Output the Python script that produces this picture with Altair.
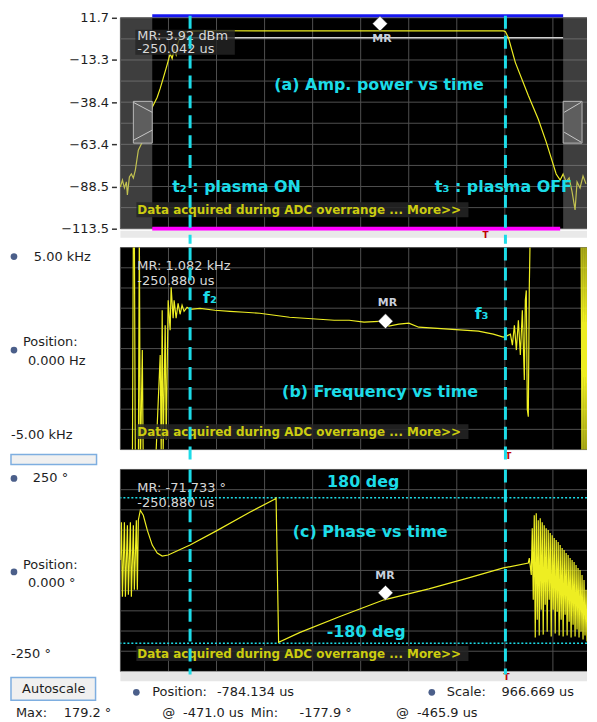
import altair as alt
import pandas as pd

FONT = "DejaVu Sans"
W = 469
HA, HB, HC = 212, 203, 203

CY = "#1cdce8"
YEL = "#eeee22"
GRID = "#505050"
TXT = "#1e1e1e"

# ---------------- shared time axis (us) ----------------
T_DOMAIN = [-784.134, 154.5]
x_grid = [-784.13, -687.47, -590.80, -494.13, -397.47, -300.80, -204.13, -107.47, -10.80, 85.87]
t_events = [-644.0, -9.6]          # t2 plasma ON, t3 plasma OFF
t_mr = -250.88

# ---------------- panel (a) amplifier power (dBm) ----------------
a_dom = [-113.5, 11.7]
a_grid = [-113.5, -100.98, -88.46, -75.94, -63.42, -50.9, -38.38, -25.86, -13.34, -0.82, 11.7]
a_ticks = [11.7, -13.34, -38.38, -63.42, -88.46, -113.5]
a_t = [-784.1, -780.1, -776.1, -772.1, -770.1, -766.1, -762.1, -758.1, -754.1, -748.1,
       -740.1, -732.1, -724.1, -720.1, -710.1, -704.1, -698.1, -690.1, -684.1, -680.1,
       -676.1, -672.1, -668.1, -662.1, -656.1, -640.0, -600.0, -500.0, -400.0, -300.0,
       -200.0, -100.0, -13.6, -9.6, -3.6, 10.4, 36.4, 56.5, 72.5, 92.5,
       100.5, 106.5, 112.5, 118.5, 124.5, 130.5, 134.5, 140.5, 146.5, 152.5]
a_v = [-88.7, -84.6, -89.3, -85.7, -93.4, -82.8, -81.0, -83.4, -78.7, -66.9,
       -62.1, -55.0, -45.6, -41.4, -35.5, -30.2, -24.3, -16.1, -9.6, -12.5,
       -7.2, -10.2, -3.1, 1.7, 3.4, 3.8, 4.0, 3.9, 3.9, 3.9,
       3.9, 3.9, 3.9, 3.4, -0.1, -14.9, -34.4, -48.5, -62.1, -81.0,
       -84.6, -81.0, -85.7, -83.4, -91.7, -102.3, -85.7, -89.3, -82.2, -86.9]
a_ref_level = -0.1
a_top_level = 12.9
a_bottom_level = -113.5
a_span_t = [-720.1, 106.5]
a_mag_t = [-720.1, 100.5]
a_zone_t1 = [-784.134, 106.5]
a_zone_t2 = [-720.1, 154.5]
a_handle_t1 = [-758.1, 106.5]
a_handle_t2 = [-720.1, 144.5]
a_handle_v = [-37.9, -62.7]
a_handle_line_t1 = [-758.1, -758.1, 108.5, 108.5]
a_handle_line_t2 = [-720.1, -720.1, 142.5, 142.5]
a_handle_line_v1 = [-38.5, -61.0, -44.4, -56.2]
a_handle_line_v2 = [-44.4, -55.0, -38.5, -62.1]

# ---------------- panel (b) frequency (Hz) ----------------
b_dom = [-5000, 5000]
b_grid = [-5000, -4000, -3000, -2000, -1000, 0, 1000, 2000, 3000, 4000, 5000]
b_t = [-782.1, -760.1, -758.1, -756.1, -754.1, -748.1, -746.1, -744.1, -740.1, -738.1,
       -714.1, -704.1, -702.1, -700.1, -698.1, -694.1, -692.1, -688.1, -684.1, -682.1,
       -678.1, -676.1, -672.1, -668.1, -664.1, -660.1, -656.1, -650.1, -644.1, -624.0,
       -594.0, -564.0, -534.0, -504.0, -474.0, -444.0, -414.0, -384.0, -354.0, -324.0,
       -294.0, -254.0, -244.0, -224.0, -204.0, -184.0, -154.0, -124.0, -94.0, -64.0,
       -34.0, -14.0, -8.0, 0.4, 4.4, 8.4, 12.4, 16.4, 20.4, 24.4,
       28.4, 30.4, 32.4, 34.4, 36.4, 38.4, 40.4, 142.5, 144.5, 146.5,
       148.5, 150.5, 152.5, 154.5]
b_v = [-6100, -6100, 6000, 6000, -6100, -6100, 6000, -6100, -70, -6100,
       -6100, -320, -5000, 1897, -5000, 1158, -4507, 2389, 911, 3030,
       1503, 2389, 1503, 2241, 1700, 2143, 1847, 2044, 1946, 1995,
       1897, 1847, 1798, 1749, 1650, 1552, 1503, 1453, 1404, 1404,
       1306, 1355, 1108, 1207, 1256, 1059, 1010, 961, 911, 862,
       714, 567, 616, 714, 172, 1158, -74, 1404, -320, 1897,
       -1552, 2389, 2882, -3030, -3374, 3030, 6000, 6000, -6100, 6000,
       -6100, 6000, -6100, 6000]

# ---------------- panel (c) phase (deg) ----------------
c_dom = [-250, 250]
c_grid = [-250, -200, -150, -100, -50, 0, 50, 100, 150, 200, 250]
c_limits = [180, -180]
c_t_main = [-784.1, -782.1, -780.1, -776.1, -774.1, -770.1, -768.1, -764.1, -762.1, -758.1,
            -756.1, -752.1, -750.1, -748.1, -744.1, -738.1, -730.1, -720.1, -710.1, -700.1,
            -688.1, -644.1, -592.0, -524.0, -473.9, -471.0, -465.9, -423.9, -343.8, -253.8,
            -163.7, -83.7, -13.6, 36.4]
c_v_main = [25.9, 119.5, -65.3, 119.5, -65.3, 112.1, -60.3, 119.5, -65.3, 112.1,
            -48.0, 124.4, -48.0, 124.4, 149.0, 136.7, 99.8, 62.8, 43.1, 35.7,
            38.2, 62.8, 97.3, 144.1, 176.0, 179.2, -177.9, -153.9, -114.5, -72.7,
            -45.6, -18.5, 6.2, 18.5]
c_t_osc = [38.4, 42.4, 44.4, 46.4, 48.4, 50.4, 52.4, 54.4, 56.4, 58.4,
           60.4, 62.4, 64.4, 66.4, 68.4, 70.4, 72.4, 74.4, 76.4, 78.5,
           80.5, 82.5, 84.5, 86.5, 88.5, 90.5, 92.5, 94.5, 96.5, 98.5,
           100.5, 102.5, 104.5, 106.5, 108.5, 110.5, 112.5, 114.5, 116.5, 118.5,
           120.5, 122.5, 124.5, 126.5, 128.5, 130.5, 132.5, 134.5, 136.5, 138.5,
           140.5, 142.5, 144.5, 146.5, 148.5, 150.5, 152.5, 154.5]
c_v_osc = [30.8, -11.1, 104.7, -72.7, 136.7, -166.2, 141.6, -121.9, 124.4, -161.3,
           129.3, -97.3, 119.5, -158.9, 112.1, -85.0, 104.7, -151.5, 99.8, -72.7,
           92.4, -163.8, 87.4, -97.3, 80.0, -156.4, 75.1, -102.2, 70.2, -161.3,
           62.8, -121.9, 55.4, -163.8, 50.5, -109.6, 43.1, -161.3, 38.2, -126.8,
           30.8, -166.2, 25.9, -134.2, 21.0, -163.8, 13.6, -146.5, 6.2, -166.2,
           1.2, -151.5, -11.1, -171.2, -23.4, -161.3, -48.0, -176.1]

# ---------------- helpers ----------------
xs = alt.Scale(domain=T_DOMAIN, nice=False, zero=False)
ya = alt.Scale(domain=a_dom, nice=False, zero=False)
yb = alt.Scale(domain=b_dom, nice=False, zero=False)
yc = alt.Scale(domain=c_dom, nice=False, zero=False)
a_axis = alt.Axis(values=a_ticks, format=".1f", title=None, grid=False, domain=False,
                  ticks=True, tickColor="#333", tickSize=5, tickWidth=1.5, offset=4,
                  labelPadding=3, labelFontSize=13, labelColor=TXT, labelFont=FONT,
                  labelFlush=False, labelOverlap=False)
AXES = {id(ya): a_axis}
one = pd.DataFrame({"k": [0]})


def X(f="t"):
    return alt.X(f"{f}:Q", scale=xs, axis=None)


def Y(ys, f="v"):
    return alt.Y(f"{f}:Q", scale=ys, axis=AXES.get(id(ys), None))


def ui(text, x, y, size=13, color=TXT, align="left", weight="normal"):
    return alt.Chart(one).mark_text(text=text, align=align, baseline="middle", font=FONT,
                                    fontSize=size, color=color, fontWeight=weight).encode(
        x=alt.value(x), y=alt.value(y))


def ui_rect(x, x2, y, y2, fill, stroke=None, sw=1):
    kw = dict(fill=fill)
    if stroke:
        kw.update(stroke=stroke, strokeWidth=sw)
    return alt.Chart(one).mark_rect(**kw).encode(
        x=alt.value(x), x2=alt.value(x2), y=alt.value(y), y2=alt.value(y2))


def icon(x, y):
    return alt.Chart(one).mark_point(shape="circle", filled=True, size=45, color="#4b5f8a",
                                     opacity=1).encode(x=alt.value(x), y=alt.value(y))


def anchor(y=0):
    return alt.Chart(one).mark_rule(color="white", strokeWidth=1).encode(
        x=alt.value(-112), y=alt.value(y), y2=alt.value(y + 1))


def grid_layers(ys, ygrid):
    vx = alt.Chart(pd.DataFrame({"t": x_grid})).mark_rule(color=GRID, strokeWidth=1).encode(x=X())
    hy = alt.Chart(pd.DataFrame({"v": ygrid})).mark_rule(color=GRID, strokeWidth=1).encode(y=Y(ys))
    return [vx, hy]


def events(top, bot):
    return alt.Chart(pd.DataFrame({"t": t_events})).mark_rule(
        color=CY, strokeWidth=3, strokeDash=[13, 7]).encode(
        x=X(), y=alt.value(top), y2=alt.value(bot))


def trace(t, v, ys, clip=False):
    return alt.Chart(pd.DataFrame({"t": t, "v": v})).mark_line(
        color=YEL, strokeWidth=1.2, clip=clip).encode(x=X(), y=Y(ys))


def texts(ts, vs, ss, ys, **mk):
    return alt.Chart(pd.DataFrame({"t": ts, "v": vs, "s": ss})).mark_text(
        font=FONT, baseline="middle", **mk).encode(x=X(), y=Y(ys), text="s:N")


def diamond(t, v, ys):
    return alt.Chart(pd.DataFrame({"t": [t], "v": [v]})).mark_point(
        shape="diamond", filled=True, color="white", size=220, opacity=1,
        stroke="#444", strokeWidth=0.5).encode(x=X(), y=Y(ys))


def overrange(v, ys):
    box = alt.Chart(pd.DataFrame({"t": [-752.0], "t2": [-84.0], "v": [v]})).mark_rect(
        color="#262626", opacity=0.85, height=15).encode(x=X(), x2="t2:Q", y=Y(ys))
    txt = texts([-750.1], [v], ["Data acquired during ADC overrange ... More>>"], ys,
                align="left", fontSize=12, fontWeight="bold", color="#cccc10")
    return [box, txt]


# ---------------- panel (a) ----------------
pa_layers = grid_layers(ya, a_grid) + [
    alt.Chart(pd.DataFrame({"t": [a_span_t[0]], "t2": [a_span_t[1]], "v": [a_ref_level]}))
       .mark_rule(color="#d0d0d0", strokeWidth=1.5).encode(x=X(), x2="t2:Q", y=Y(ya)),
    trace(a_t, a_v, ya),
    alt.Chart(pd.DataFrame({"t": a_zone_t1, "t2": a_zone_t2}))
       .mark_rect(color="#8a8a8a", opacity=0.45).encode(x=X(), x2="t2:Q"),
    alt.Chart(pd.DataFrame({"t": a_handle_t1, "t2": a_handle_t2,
                            "v": [a_handle_v[0]] * 2, "v2": [a_handle_v[1]] * 2}))
       .mark_rect(fill="#5e5e5e", stroke="#b8b8b8", strokeWidth=1)
       .encode(x=X(), x2="t2:Q", y=Y(ya), y2="v2:Q"),
    alt.Chart(pd.DataFrame({"t": a_handle_line_t1, "t2": a_handle_line_t2,
                            "v": a_handle_line_v1, "v2": a_handle_line_v2}))
       .mark_rule(color="#c8c8c8", strokeWidth=1).encode(x=X(), x2="t2:Q", y=Y(ya), y2="v2:Q"),
    alt.Chart(pd.DataFrame({"t": [a_span_t[0]], "t2": [a_span_t[1]], "v": [a_top_level]}))
       .mark_rule(color="#1818f0", strokeWidth=3).encode(x=X(), x2="t2:Q", y=Y(ya)),
    alt.Chart(pd.DataFrame({"t": [a_mag_t[0]], "t2": [a_mag_t[1]], "v": [a_bottom_level]}))
       .mark_rule(color="#ff00ff", strokeWidth=4).encode(x=X(), x2="t2:Q", y=Y(ya)),
    ui_rect(0, W, HA + 2, HA + 9, "#e9e9e9"),
    alt.Chart(pd.DataFrame({"t": [-754.1], "t2": [-554.0], "v": [4.6], "v2": [-10.2]}))
       .mark_rect(color="#262626", opacity=0.8).encode(x=X(), x2="t2:Q", y=Y(ya), y2="v2:Q"),
    texts([-750.1, -750.1], [1.07, -6.6], ["MR: 3.92 dBm", "-250.042 us"], ya,
          align="left", fontSize=13, color="#d8d8d8"),
    diamond(-262.0, 8.2, ya),
    texts([-258.0], [-0.7], ["MR"], ya, align="center", fontSize=11, fontWeight="bold", color="#c9d0dc"),
    texts([-263.8], [-28.5], ["(a) Amp. power vs time"], ya, align="center", fontSize=16,
          fontWeight="bold", color=CY),
    texts([-680.1, -151.7], [-88.7, -88.7], ["t\u2082 : plasma ON", "t\u2083 : plasma OFF"], ya,
          align="left", fontSize=16, fontWeight="bold", color=CY),
] + overrange(-102.3, ya) + [
    texts([-49.6], [-117.1], ["T"], ya, align="center", fontSize=9, fontWeight="bold", color="#c00000"),
    events(-2, HA + 15),
    anchor(-7),
]
pa = alt.layer(*pa_layers).properties(width=W, height=HA)

# ---------------- panel (b) ----------------
pb_layers = grid_layers(yb, b_grid) + [
    trace(b_t, b_v, yb, clip=True),
    texts([-750.1, -750.1], [4064, 3325], ["MR: 1.082 kHz", "-250.880 us"], yb,
          align="left", fontSize=13, color="#d8d8d8"),
    diamond(t_mr, 1355, yb),
    texts([-247.0], [2241], ["MR"], yb, align="center", fontSize=11, fontWeight="bold", color="#c9d0dc"),
    texts([-604.0, -57.6], [2488, 1700], ["f\u2082", "f\u2083"], yb, align="center",
          fontSize=16, fontWeight="bold", color=CY),
    texts([-261.8], [-2143], ["(b) Frequency vs time"], yb, align="center", fontSize=16,
          fontWeight="bold", color=CY),
] + overrange(-4113, yb) + [
    texts([-3.6], [-5295], ["T"], yb, align="center", fontSize=9, fontWeight="bold", color="#c00000"),
    events(0, HB + 16),
    icon(-107, 9), ui("5.00 kHz", -87, 9),
    ui("Position:", -98, 95), icon(-107, 103), ui("0.000 Hz", -93, 114),
    ui("-5.00 kHz", -110, 188),
    ui_rect(-110, -24, 208, 218, "#f0f0f0", stroke="#7eaee0", sw=1.5),
    anchor(0),
]
pb = alt.layer(*pb_layers).properties(width=W, height=HB)

# ---------------- panel (c) ----------------
pc_layers = grid_layers(yc, c_grid) + [
    alt.Chart(pd.DataFrame({"v": c_limits})).mark_rule(color=CY, strokeWidth=1.5, strokeDash=[2, 2])
       .encode(y=Y(yc)),
    trace(c_t_main + c_t_osc, c_v_main + c_v_osc, yc, clip=True),
    texts([-750.1, -750.1], [203.2, 166.3], ["MR: -71.733 \u00b0", "-250.880 us"], yc,
          align="left", fontSize=13, color="#d8d8d8"),
    diamond(t_mr, -55.4, yc),
    texts([-252.0], [-13.5], ["MR"], yc, align="center", fontSize=11, fontWeight="bold", color="#c9d0dc"),
    texts([-295.8, -289.8], [218, -151.5], ["180 deg", "-180 deg"], yc, align="center",
          fontSize=16, fontWeight="bold", color=CY),
    texts([-281.8], [94.8], ["(c) Phase vs time"], yc, align="center", fontSize=16,
          fontWeight="bold", color=CY),
] + overrange(-205.7, yc) + [
    ui_rect(0, W, HC, HC + 10, "#e6e6e6"),
    texts([-7.6], [-264.8], ["T"], yc, align="center", fontSize=9, fontWeight="bold", color="#c00000"),
    events(0, HC + 3),
    icon(-107, 9), ui("250 \u00b0", -88, 9),
    ui("Position:", -98, 96), icon(-107, 103), ui("0.000 \u00b0", -93, 114),
    ui("-250 \u00b0", -110, 186),
    ui_rect(-110, -25, 209, 232, "#f0f0f0", stroke="#7eaee0", sw=1.5),
    ui("Autoscale", -67, 221, align="center"),
    icon(16, 224), ui("Position:", 32, 224), ui("-784.134 us", 97, 224),
    icon(313, 224), ui("Scale:", 328, 224), ui("966.669 us", 383, 224),
    ui("Max:", -105, 245), ui("179.2 \u00b0", -57, 245), ui("@", 42, 245), ui("-471.0 us", 63, 245),
    ui("Min:", 131, 245), ui("-177.9 \u00b0", 180, 245), ui("@", 277, 245), ui("-465.9 us", 298, 245),
    anchor(0),
]
pc = alt.layer(*pc_layers).properties(width=W, height=HC)

chart = alt.vconcat(pa, pb, pc, spacing=0).properties(padding=0).configure_view(
    fill="black", stroke=None)

chart.save("out.html", embed_options={"renderer": "svg", "actions": False})
